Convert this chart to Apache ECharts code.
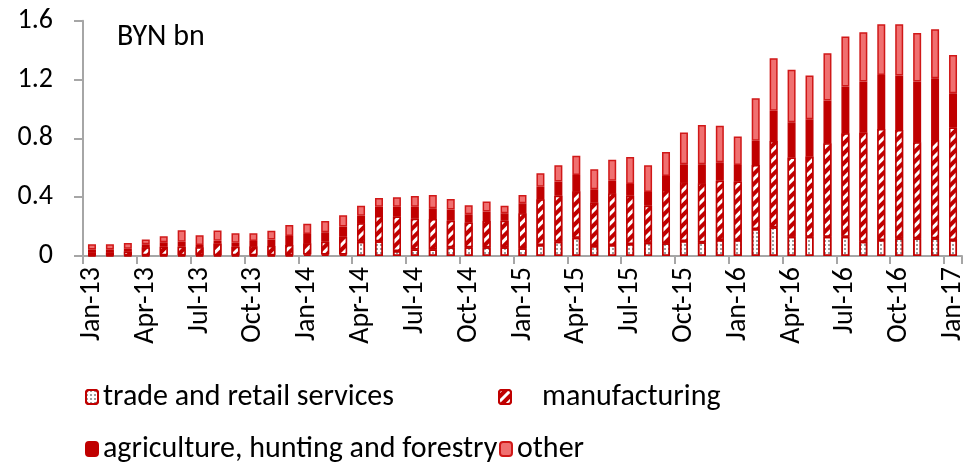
<!DOCTYPE html>
<html>
<head>
<meta charset="utf-8">
<script src="https://cdn.jsdelivr.net/npm/echarts@6/dist/echarts.min.js"></script>
<style>html,body{margin:0;padding:0;background:#fff}#c{width:967px;height:462px}</style>
</head>
<body>
<div id="c"></div>
<script>
const categories = ['Jan-13','Feb-13','Mar-13','Apr-13','May-13','Jun-13','Jul-13','Aug-13','Sep-13','Oct-13','Nov-13','Dec-13',
'Jan-14','Feb-14','Mar-14','Apr-14','May-14','Jun-14','Jul-14','Aug-14','Sep-14','Oct-14','Nov-14','Dec-14',
'Jan-15','Feb-15','Mar-15','Apr-15','May-15','Jun-15','Jul-15','Aug-15','Sep-15','Oct-15','Nov-15','Dec-15',
'Jan-16','Feb-16','Mar-16','Apr-16','May-16','Jun-16','Jul-16','Aug-16','Sep-16','Oct-16','Nov-16','Dec-16','Jan-17'];
const trade = [0.005,0.005,0.005,0.005,0.005,0.005,0.005,0.005,0.005,0.005,0.005,0.005,
0.01,0.01,0.01,0.097,0.1,0.034,0.045,0.045,0.059,0.059,0.059,0.059,
0.052,0.075,0.097,0.124,0.068,0.075,0.082,0.09,0.086,0.102,0.093,0.109,
0.109,0.184,0.195,0.131,0.131,0.131,0.131,0.097,0.109,0.12,0.12,0.12,0.109];
const manufacturing = [0.02,0.02,0.025,0.054,0.058,0.058,0.054,0.08,0.058,0.061,0.063,0.07,
0.076,0.087,0.121,0.125,0.172,0.234,0.209,0.207,0.181,0.168,0.179,0.181,
0.238,0.311,0.313,0.316,0.295,0.351,0.328,0.252,0.363,0.399,0.401,0.403,
0.397,0.435,0.587,0.538,0.545,0.636,0.704,0.742,0.755,0.737,0.653,0.669,0.764];
const agriculture = [0.02,0.02,0.02,0.021,0.03,0.034,0.016,0.018,0.027,0.036,0.045,0.061,
0.064,0.064,0.069,0.052,0.063,0.067,0.081,0.072,0.077,0.057,0.064,0.05,
0.068,0.085,0.096,0.111,0.091,0.086,0.08,0.093,0.095,0.123,0.13,0.125,
0.113,0.165,0.206,0.24,0.254,0.29,0.317,0.347,0.367,0.37,0.413,0.42,0.234];
const other = [0.035,0.035,0.038,0.033,0.041,0.078,0.066,0.071,0.064,0.052,0.059,0.075,
0.07,0.077,0.077,0.068,0.06,0.064,0.073,0.091,0.071,0.061,0.068,0.052,
0.057,0.092,0.111,0.131,0.136,0.143,0.183,0.182,0.163,0.215,0.267,0.249,
0.193,0.289,0.357,0.358,0.297,0.322,0.34,0.336,0.345,0.349,0.331,0.333,0.26];
const yTicks = [0, 0.4, 0.8, 1.2, 1.6];

const FONT = 'Carlito, Lato, sans-serif';
const RED = '#c00000';
const axisGray = '#a6a6a6';

const chart = echarts.init(document.getElementById('c'), null, {renderer:'canvas'});
const base = {type:'bar', stack:'s', barWidth:8, animation:false};
const legText = {fontFamily:FONT, fontSize:30, color:'#000', lineHeight:32};
function leg(item, left, top) {
  return {data:[item], left:left, top:top, itemWidth:12, itemHeight:14, itemGap:0,
    selectedMode:false, padding:0, textStyle:legText};
}
chart.setOption({
  animation:false,
  title:{text:'BYN bn', left:117, top:22, padding:0, textStyle:{fontFamily:FONT, fontSize:30, fontWeight:'normal', color:'#000'}},
  grid:{left:83, right:2, top:20.7, bottom:206, containLabel:false},
  legend:[
    leg('trade and retail services', 85, 381),
    leg('agriculture, hunting and forestry', 85, 433),
    leg({name:'manufacturing', textStyle:{padding:[0,0,0,26]}}, 498, 381),
    leg('other', 499, 433)
  ],
  xAxis:{type:'category', data:categories, boundaryGap:true,
    axisLine:{lineStyle:{color:axisGray, width:2}},
    axisTick:{show:true, interval:2, length:8, lineStyle:{color:axisGray, width:2}},
    axisLabel:{interval:2, rotate:90, fontFamily:FONT, fontSize:28, color:'#000', margin:11}},
  yAxis:{type:'value', min:yTicks[0], max:yTicks[yTicks.length-1], interval:0.4,
    splitLine:{show:false},
    axisLine:{show:true, lineStyle:{color:axisGray, width:2}},
    axisTick:{show:true, length:9, lineStyle:{color:axisGray, width:2}},
    axisLabel:{fontFamily:FONT, fontSize:28, color:'#000', margin:30,
      formatter:v => v===0 ? '0' : v.toFixed(1)}},
  series:[
    Object.assign({}, base, {name:'trade and retail services', data:trade,
      itemStyle:{color:'#ffffff', borderColor:RED, borderWidth:1.5,
        decal:{symbol:'circle', color:'#222', symbolSize:0.8, dashArrayX:[2,2], dashArrayY:[2,2]}}}),
    Object.assign({}, base, {name:'manufacturing', data:manufacturing,
      itemStyle:{color:RED, borderColor:RED, borderWidth:1.5,
        decal:{symbol:'rect', color:'#ffffff', dashArrayX:[1,0], dashArrayY:[3,4], rotation:-Math.PI/4}}}),
    Object.assign({}, base, {name:'agriculture, hunting and forestry', data:agriculture,
      itemStyle:{color:RED, borderColor:RED, borderWidth:1.5}}),
    Object.assign({}, base, {name:'other', data:other,
      itemStyle:{color:'#f07070', borderColor:'#d01818', borderWidth:1.5}})
  ]
});
</script>
</body>
</html>
